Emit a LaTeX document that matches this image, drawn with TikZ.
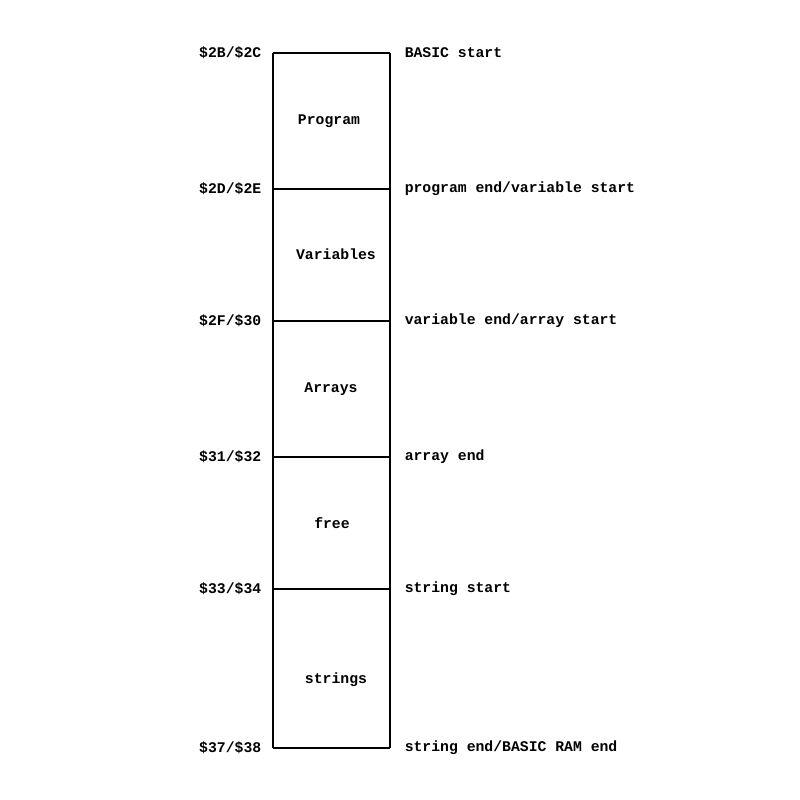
\documentclass[tikz,border=0pt]{standalone}
\usepackage{fontspec}
\setmonofont{Liberation Mono}
\tikzset{
  addr/.style={anchor=east, inner sep=0pt},
  desc/.style={anchor=west, inner sep=0pt},
  area/.style={inner sep=0pt}
}
\begin{document}
\begin{tikzpicture}[x=0.25mm, y=-0.25mm, line width=1.1pt,
    font=\ttfamily\bfseries\fontsize{10.5}{12}\selectfont]
\useasboundingbox (0,0) rectangle (800,800);
% boundaries of the memory map
\coordinate (l0) at (273,53);  \coordinate (r0) at (390,53);
\coordinate (l1) at (273,189); \coordinate (r1) at (390,189);
\coordinate (l2) at (273,321); \coordinate (r2) at (390,321);
\coordinate (l3) at (273,457); \coordinate (r3) at (390,457);
\coordinate (l4) at (273,589); \coordinate (r4) at (390,589);
\coordinate (l5) at (273,748); \coordinate (r5) at (390,748);
\draw (l0) -- (l5);
\draw (r0) -- (r5);
\foreach \i in {0,...,5}
    \draw (l\i) -- (r\i);
% pointer addresses
\node[addr] (addr0) at (262,53)  {\$2B/\$2C};
\node[addr] (addr1) at (262,189) {\$2D/\$2E};
\node[addr] (addr2) at (262,321) {\$2F/\$30};
\node[addr] (addr3) at (262,457) {\$31/\$32};
\node[addr] (addr4) at (262,589) {\$33/\$34};
\node[addr] (addr5) at (262,748) {\$37/\$38};
% what the pointers mark
\node[desc] (desc0) at (404,53)  {BASIC start};
\node[desc] (desc1) at (404,189) {program end/variable start};
\node[desc] (desc2) at (404,321) {variable end/array start};
\node[desc] (desc3) at (404,457) {array end};
\node[desc] (desc4) at (404,589) {string start};
\node[desc] (desc5) at (404,748) {string end/BASIC RAM end};
% areas
\node[area] (prog) at (329,121) {Program};
\node[area] (vars) at (336,254) {Variables};
\node[area] (arrs) at (331,389) {Arrays};
\node[area] (free) at (332,523) {free};
\node[area] (strs) at (336,680) {strings};
\end{tikzpicture}
\end{document}
